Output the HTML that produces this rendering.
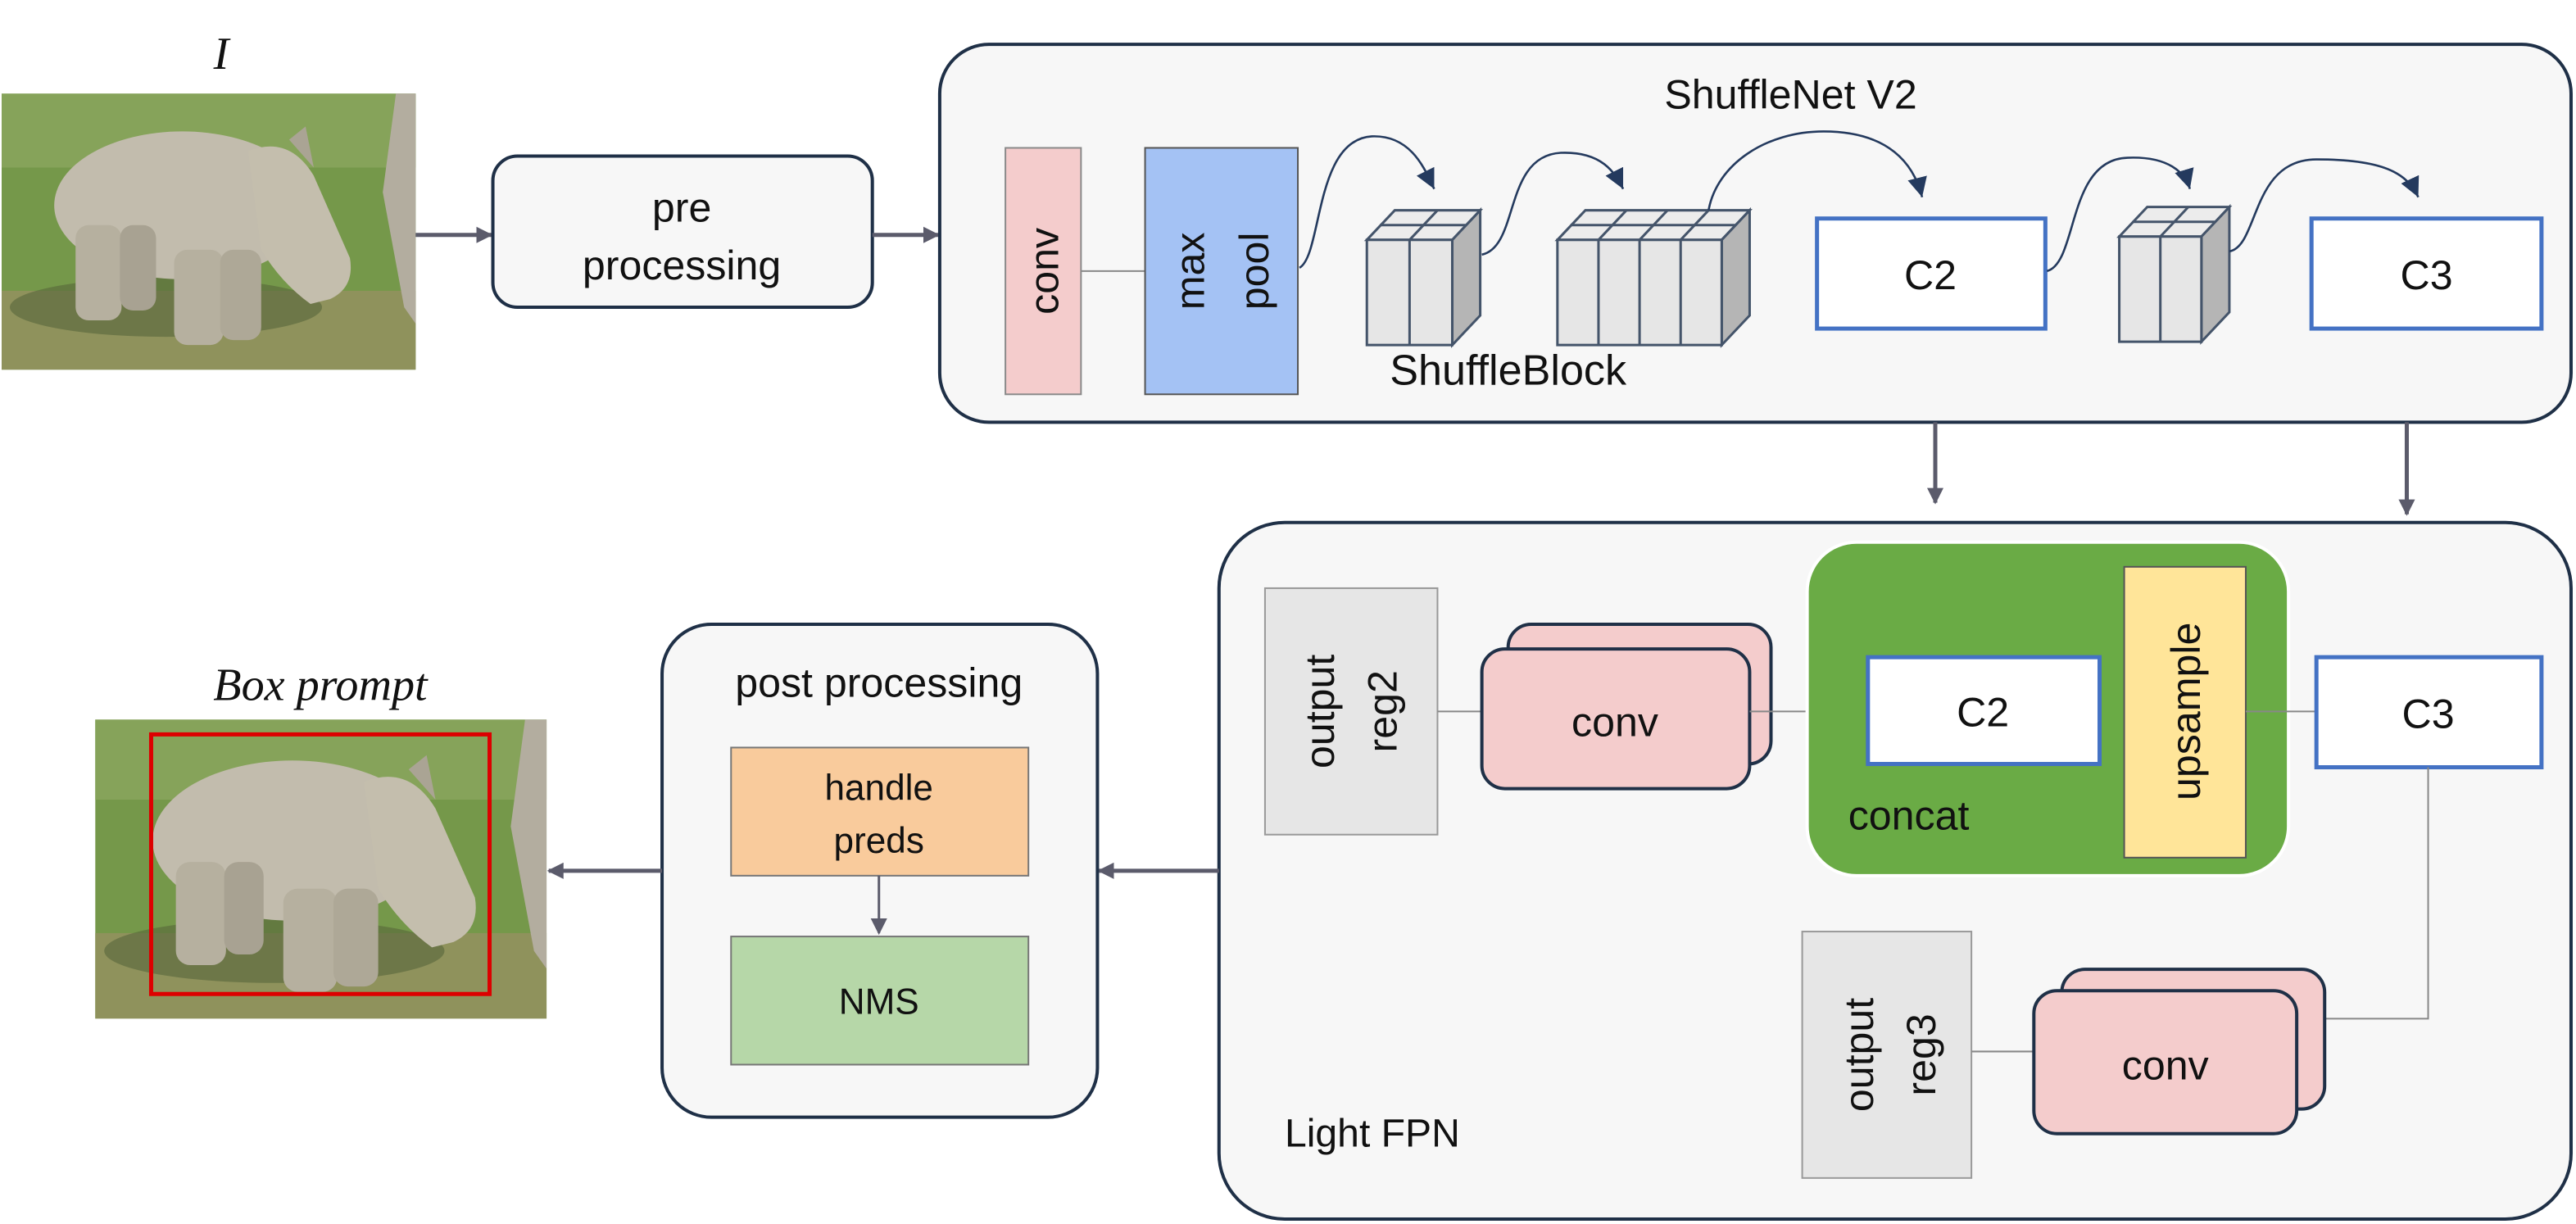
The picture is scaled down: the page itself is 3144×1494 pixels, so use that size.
<!DOCTYPE html>
<html><head><meta charset="utf-8"><style>
html,body{margin:0;padding:0;background:#fff;}
svg{display:block;}
text{font-family:"Liberation Sans","DejaVu Sans",sans-serif;fill:#111;}
</style></head><body>
<svg width="3144" height="1494" viewBox="0 0 1568 745" preserveAspectRatio="none" xmlns="http://www.w3.org/2000/svg">
<defs>
<marker id="ag" markerWidth="10" markerHeight="10" refX="9" refY="5" orient="auto" markerUnits="userSpaceOnUse"><path d="M0,0 L10,5 L0,10 z" fill="#5b5b6b"/></marker>
<marker id="ad" markerWidth="12" markerHeight="14" refX="12" refY="6" orient="auto" markerUnits="userSpaceOnUse"><path d="M0,0 L12,6 L0,12 z" fill="#243a5e"/></marker>
<g id="photo">
<rect x="0" y="0" width="252" height="168" fill="#75984a"/>
<rect x="0" y="0" width="252" height="45" fill="#86a35a"/>
<rect x="0" y="120" width="252" height="48" fill="#8f925c"/>
<ellipse cx="100" cy="130" rx="95" ry="18" fill="#56663a" opacity="0.6"/>
<path d="M240,0 L252,0 L252,140 L245,130 L232,60 Z" fill="#b3ad9f"/>
<ellipse cx="110" cy="68" rx="78" ry="45" fill="#c2bcad"/>
<path d="M150,35 Q175,25 190,50 L212,100 Q215,118 200,125 L188,128 Q170,115 158,95 Z" fill="#c4bead"/>
<path d="M175,28 L185,20 L190,45 Z" fill="#aaa494"/>
<rect x="45" y="80" width="28" height="58" rx="8" fill="#b6b09f"/>
<rect x="72" y="80" width="22" height="52" rx="8" fill="#a8a292"/>
<rect x="105" y="95" width="30" height="58" rx="8" fill="#b6b09f"/>
<rect x="133" y="95" width="25" height="55" rx="8" fill="#aea897"/>
</g>
</defs>

<text x="130" y="42" font-style="italic" font-size="28" style="font-family:'Liberation Serif',serif">I</text>
<use href="#photo" transform="translate(1,57)"/>

<line x1="253" y1="143" x2="299" y2="143" stroke="#5b5b6b" stroke-width="2.5" marker-end="url(#ag)"/>
<rect x="300" y="95" width="231" height="92" rx="15" fill="#f7f7f7" stroke="#1f3047" stroke-width="2"/>
<text x="415" y="135" font-size="25" text-anchor="middle">pre</text>
<text x="415" y="170" font-size="25" text-anchor="middle">processing</text>
<line x1="531" y1="143" x2="571" y2="143" stroke="#5b5b6b" stroke-width="2.5" marker-end="url(#ag)"/>

<rect x="572" y="27" width="993" height="230" rx="30" fill="#f7f7f7" stroke="#1f3047" stroke-width="2"/>
<text x="1090" y="66" font-size="25" text-anchor="middle">ShuffleNet V2</text>
<rect x="612" y="90" width="46" height="150" fill="#f4cccc" stroke="#8a8a8a" stroke-width="1"/>
<text transform="translate(644,165) rotate(-90)" font-size="25" text-anchor="middle">conv</text>
<line x1="658" y1="165" x2="697" y2="165" stroke="#888" stroke-width="1"/>
<rect x="697" y="90" width="93" height="150" fill="#a4c2f4" stroke="#555" stroke-width="1"/>
<text transform="translate(733,165) rotate(-90)" font-size="25" text-anchor="middle">max</text>
<text transform="translate(772,165) rotate(-90)" font-size="25" text-anchor="middle">pool</text>

<g stroke="#44546a" stroke-width="1.5">
<polygon points="832,146 884,146 901,128 849,128" fill="#ececec"/>
<polygon points="884,146 901,128 901,192 884,210" fill="#b5b5b5"/>
<rect x="832" y="146" width="52" height="64" fill="#e6e6e6"/>
<line x1="858" y1="146" x2="858" y2="210"/><line x1="858" y1="146" x2="875" y2="128"/><line x1="840" y1="137" x2="892" y2="137"/>

<polygon points="948,146 1048,146 1065,128 965,128" fill="#ececec"/>
<polygon points="1048,146 1065,128 1065,192 1048,210" fill="#b5b5b5"/>
<rect x="948" y="146" width="100" height="64" fill="#e6e6e6"/>
<line x1="973" y1="146" x2="973" y2="210"/><line x1="998" y1="146" x2="998" y2="210"/><line x1="1023" y1="146" x2="1023" y2="210"/>
<line x1="973" y1="146" x2="990" y2="128"/><line x1="998" y1="146" x2="1015" y2="128"/><line x1="1023" y1="146" x2="1040" y2="128"/><line x1="956" y1="137" x2="1056" y2="137"/>

<polygon points="1290,144 1340,144 1357,126 1307,126" fill="#ececec"/>
<polygon points="1340,144 1357,126 1357,190 1340,208" fill="#b5b5b5"/>
<rect x="1290" y="144" width="50" height="64" fill="#e6e6e6"/>
<line x1="1315" y1="144" x2="1315" y2="208"/><line x1="1315" y1="144" x2="1332" y2="126"/><line x1="1298" y1="135" x2="1348" y2="135"/>
</g>
<text x="918" y="234" font-size="26" text-anchor="middle">ShuffleBlock</text>
<rect x="1106" y="133" width="139" height="67" fill="#fff" stroke="#4472c4" stroke-width="2.5"/>
<text x="1175" y="176" font-size="25" text-anchor="middle">C2</text>
<rect x="1407" y="133" width="140" height="67" fill="#fff" stroke="#4472c4" stroke-width="2.5"/>
<text x="1477" y="176" font-size="25" text-anchor="middle">C3</text>

<g fill="none" stroke="#243a5e" stroke-width="1.3">
<path d="M791,163 C805,155 800,85 835,83 C860,82 868,105 873,115" marker-end="url(#ad)"/>
<path d="M902,155 C925,150 915,95 950,93 C975,92 983,105 988,115" marker-end="url(#ad)"/>
<path d="M1040,128 C1045,100 1075,80 1110,80 C1150,80 1165,100 1170,120" marker-end="url(#ad)"/>
<path d="M1246,165 C1265,160 1258,97 1295,96 C1320,95 1330,105 1333,115" marker-end="url(#ad)"/>
<path d="M1357,153 C1375,150 1370,97 1410,97 C1450,97 1465,105 1472,120" marker-end="url(#ad)"/>
</g>

<line x1="1178" y1="257" x2="1178" y2="306" stroke="#5b5b6b" stroke-width="2.5" marker-end="url(#ag)"/>
<line x1="1465" y1="257" x2="1465" y2="313" stroke="#5b5b6b" stroke-width="2.5" marker-end="url(#ag)"/>

<rect x="742" y="318" width="823" height="424" rx="40" fill="#f7f7f7" stroke="#1f3047" stroke-width="2"/>
<rect x="770" y="358" width="105" height="150" fill="#e6e6e6" stroke="#999" stroke-width="1"/>
<text transform="translate(812,433) rotate(-90)" font-size="25" text-anchor="middle">output</text>
<text transform="translate(850,433) rotate(-90)" font-size="25" text-anchor="middle">reg2</text>
<line x1="875" y1="433" x2="902" y2="433" stroke="#888" stroke-width="1"/>
<rect x="918" y="380" width="160" height="85" rx="14" fill="#f4cccc" stroke="#1f3047" stroke-width="2"/>
<rect x="902" y="395" width="163" height="85" rx="14" fill="#f4cccc" stroke="#1f3047" stroke-width="2"/>
<text x="983" y="448" font-size="25" text-anchor="middle">conv</text>
<line x1="1065" y1="433" x2="1102" y2="433" stroke="#888" stroke-width="1"/>
<rect x="1100" y="330" width="293" height="203" rx="30" fill="#6aab45" stroke="#fff" stroke-width="2"/>
<text x="1125" y="505" font-size="25">concat</text>
<rect x="1137" y="400" width="141" height="65" fill="#fff" stroke="#4472c4" stroke-width="2.5"/>
<text x="1207" y="442" font-size="25" text-anchor="middle">C2</text>
<rect x="1293" y="345" width="74" height="177" fill="#ffe599" stroke="#555" stroke-width="1"/>
<text transform="translate(1339,433) rotate(-90)" font-size="25" text-anchor="middle">upsample</text>
<line x1="1367" y1="433" x2="1410" y2="433" stroke="#888" stroke-width="1"/>
<rect x="1410" y="400" width="137" height="67" fill="#fff" stroke="#4472c4" stroke-width="2.5"/>
<text x="1478" y="443" font-size="25" text-anchor="middle">C3</text>
<polyline points="1478,467 1478,620 1415,620" fill="none" stroke="#888" stroke-width="1"/>
<rect x="1097" y="567" width="103" height="150" fill="#e6e6e6" stroke="#999" stroke-width="1"/>
<text transform="translate(1140,642) rotate(-90)" font-size="25" text-anchor="middle">output</text>
<text transform="translate(1178,642) rotate(-90)" font-size="25" text-anchor="middle">reg3</text>
<line x1="1200" y1="640" x2="1238" y2="640" stroke="#888" stroke-width="1"/>
<rect x="1255" y="590" width="160" height="85" rx="14" fill="#f4cccc" stroke="#1f3047" stroke-width="2"/>
<rect x="1238" y="603" width="160" height="87" rx="14" fill="#f4cccc" stroke="#1f3047" stroke-width="2"/>
<text x="1318" y="657" font-size="25" text-anchor="middle">conv</text>
<text x="782" y="698" font-size="24">Light FPN</text>

<line x1="742" y1="530" x2="669" y2="530" stroke="#5b5b6b" stroke-width="2.5" marker-end="url(#ag)"/>

<rect x="403" y="380" width="265" height="300" rx="30" fill="#f7f7f7" stroke="#1f3047" stroke-width="2"/>
<text x="535" y="424" font-size="25" text-anchor="middle">post processing</text>
<rect x="445" y="455" width="181" height="78" fill="#f9cb9c" stroke="#777" stroke-width="1"/>
<text x="535" y="487" font-size="22" text-anchor="middle">handle</text>
<text x="535" y="519" font-size="22" text-anchor="middle">preds</text>
<line x1="535" y1="533" x2="535" y2="568" stroke="#5b5b6b" stroke-width="1.5" marker-end="url(#ag)"/>
<rect x="445" y="570" width="181" height="78" fill="#b6d7a8" stroke="#777" stroke-width="1"/>
<text x="535" y="617" font-size="22" text-anchor="middle">NMS</text>

<line x1="403" y1="530" x2="334" y2="530" stroke="#5b5b6b" stroke-width="2.5" marker-end="url(#ag)"/>

<text x="195" y="426" font-size="28" font-style="italic" text-anchor="middle" style="font-family:'Liberation Serif',serif">Box prompt</text>
<use href="#photo" transform="translate(58,438) scale(1.09,1.083)"/>
<rect x="92" y="447" width="206" height="158" fill="none" stroke="#d00" stroke-width="2.5"/>
</svg>
</body></html>
